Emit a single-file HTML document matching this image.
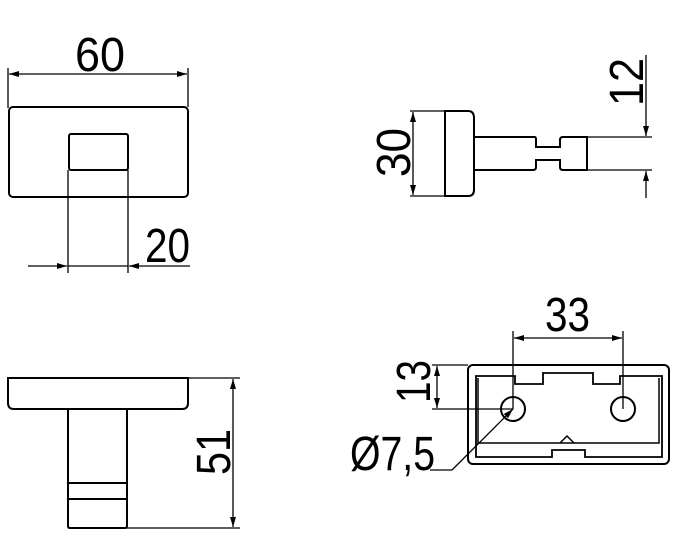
<!DOCTYPE html>
<html><head><style>body{margin:0;background:#fff}svg{display:block}</style></head><body>
<svg width="682" height="540" viewBox="0 0 682 540" xmlns="http://www.w3.org/2000/svg" font-family="Liberation Sans, sans-serif" font-size="48">
<defs>
<marker id="a" viewBox="0 0 10 6" refX="10" refY="3" markerWidth="10" markerHeight="6" orient="auto-start-reverse" markerUnits="userSpaceOnUse"><path d="M0,0L10,3L0,6z" fill="#000"/></marker>
</defs>
<g fill="none" stroke="#000" stroke-width="1.3">
<line x1="8" y1="68" x2="8" y2="108"/><line x1="188" y1="68" x2="188" y2="107"/>
<line x1="9" y1="74" x2="187" y2="74" marker-start="url(#a)" marker-end="url(#a)"/>
<rect x="9" y="107" width="179" height="90" rx="4" stroke-width="2"/>
<rect x="69" y="134" width="59" height="36" rx="2" stroke-width="2"/>
<line x1="68" y1="170" x2="68" y2="273"/><line x1="128" y1="170" x2="128" y2="273"/>
<line x1="28" y1="266" x2="67" y2="266" marker-end="url(#a)"/>
<line x1="190" y1="266" x2="129" y2="266" marker-end="url(#a)"/>
<line x1="68" y1="266" x2="128" y2="266"/>
<path d="M445,111H468Q474,111 474,118V190Q474,196 468,196H445Z" stroke-width="2"/>
<path d="M474,137H535Q536,137 536,140V147H560V140Q560,137 563,137H587V170H563Q560,170 560,167V160H536V167Q536,170 533,170H474" stroke-width="2"/>
<line x1="410" y1="111" x2="445" y2="111"/><line x1="410" y1="196" x2="445" y2="196"/>
<line x1="413" y1="112" x2="413" y2="195" marker-start="url(#a)" marker-end="url(#a)"/>
<line x1="587" y1="137" x2="652" y2="137"/><line x1="587" y1="170" x2="652" y2="170"/>
<line x1="646" y1="55" x2="646" y2="136" marker-end="url(#a)"/>
<line x1="646" y1="198" x2="646" y2="171" marker-end="url(#a)"/>
<path d="M8,378H188V403Q188,409 182,409H14Q8,409 8,403Z" stroke-width="2"/>
<path d="M68,409V526Q68,528 70,528H125Q127,528 127,526V409" stroke-width="2"/>
<line x1="68" y1="483" x2="127" y2="483" stroke-width="2"/><line x1="68" y1="499" x2="127" y2="499" stroke-width="2"/>
<line x1="188" y1="378" x2="240" y2="378"/><line x1="127" y1="528" x2="240" y2="528"/>
<line x1="233" y1="379" x2="233" y2="527" marker-start="url(#a)" marker-end="url(#a)"/>
<rect x="468" y="365" width="201" height="99" rx="5" stroke-width="2"/>
<path d="M476,457V376H515V384H543V373H593V384H620V376H662V457H585V450H552V457Z" stroke-width="1.8"/>
<path d="M478,378V443H659V378" stroke-width="1.5"/>
<path d="M560,443L567,436L574,443" stroke-width="1.5"/>
<circle cx="513" cy="409" r="12" stroke-width="2"/><circle cx="623" cy="409" r="12" stroke-width="2"/>
<line x1="513" y1="331" x2="513" y2="409"/><line x1="623" y1="331" x2="623" y2="409"/>
<line x1="514" y1="338" x2="622" y2="338" marker-start="url(#a)" marker-end="url(#a)"/>
<line x1="432" y1="365" x2="468" y2="365"/><line x1="432" y1="409" x2="513" y2="409"/>
<line x1="437" y1="366" x2="437" y2="408" marker-start="url(#a)" marker-end="url(#a)"/>
<line x1="513" y1="409" x2="452" y2="470" marker-start="url(#a)"/>
<line x1="452" y1="470" x2="430" y2="470"/>
</g>
<g fill="#000" lengthAdjust="spacingAndGlyphs">
<text x="75" y="71" textLength="50" lengthAdjust="spacingAndGlyphs">60</text>
<text x="145" y="262" textLength="45" lengthAdjust="spacingAndGlyphs">20</text>
<text x="545" y="331" textLength="45" lengthAdjust="spacingAndGlyphs">33</text>
<text x="350" y="470" textLength="85" lengthAdjust="spacingAndGlyphs">Ø7,5</text>
<text transform="translate(410,177) rotate(-90)" textLength="49" lengthAdjust="spacingAndGlyphs">30</text>
<text transform="translate(643,106) rotate(-90)" textLength="48" lengthAdjust="spacingAndGlyphs">12</text>
<text transform="translate(230,475) rotate(-90)" textLength="46" lengthAdjust="spacingAndGlyphs">51</text>
<text transform="translate(430,403) rotate(-90)" textLength="43" lengthAdjust="spacingAndGlyphs">13</text>
</g>
</svg>
</body></html>
